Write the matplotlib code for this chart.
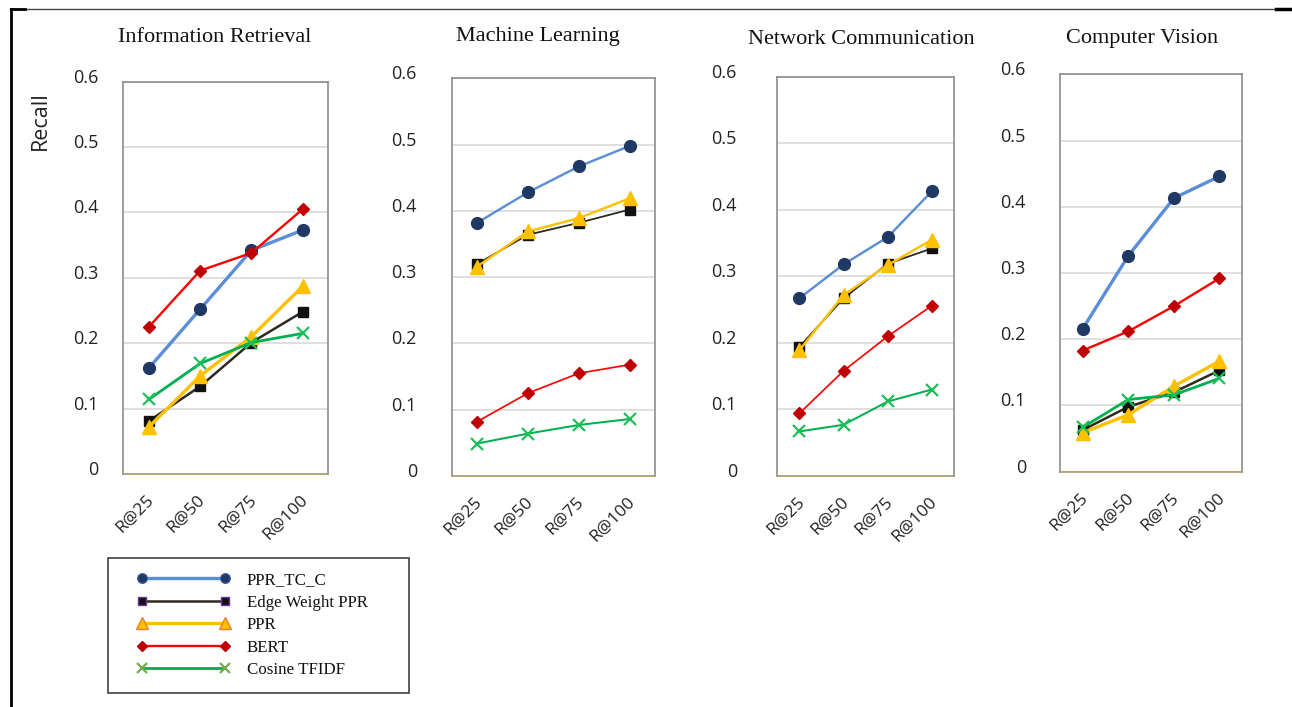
import matplotlib
matplotlib.use("Agg")
import matplotlib.pyplot as plt
import matplotlib.transforms as mtransforms
from matplotlib.lines import Line2D
from matplotlib.legend_handler import HandlerLine2D

# recall at each cutoff, one list per method and domain
cutoffs = ["R@25", "R@50", "R@75", "R@100"]
domains = ["Information Retrieval", "Machine Learning",
           "Network Communication", "Computer Vision"]
methods = ["PPR_TC_C", "Edge Weight PPR", "PPR", "BERT", "Cosine TFIDF"]

ppr_tc_c = [
    [0.162, 0.252, 0.342, 0.373],
    [0.382, 0.428, 0.467, 0.498],
    [0.267, 0.318, 0.359, 0.428],
    [0.216, 0.326, 0.413, 0.446],
]
edge_weight_ppr = [
    [0.081, 0.134, 0.201, 0.248],
    [0.320, 0.364, 0.382, 0.402],
    [0.194, 0.267, 0.319, 0.342],
    [0.063, 0.098, 0.120, 0.153],
]
ppr = [
    [0.072, 0.150, 0.210, 0.287],
    [0.316, 0.369, 0.389, 0.419],
    [0.189, 0.272, 0.317, 0.355],
    [0.059, 0.086, 0.129, 0.167],
]
bert = [
    [0.225, 0.311, 0.338, 0.405],
    [0.082, 0.125, 0.155, 0.168],
    [0.094, 0.158, 0.210, 0.256],
    [0.183, 0.212, 0.250, 0.292],
]
cosine_tfidf = [
    [0.114, 0.169, 0.201, 0.215],
    [0.049, 0.064, 0.077, 0.086],
    [0.067, 0.077, 0.112, 0.130],
    [0.067, 0.109, 0.116, 0.141],
]
series = [ppr_tc_c, edge_weight_ppr, ppr, bert, cosine_tfidf]

styles = [
    dict(color="#5b8ed8", lw=2.4, marker="o", ms=8.5, mfc="#1f3864", mec="#1f3864"),
    dict(color="#2e2a1f", lw=1.8, marker="s", ms=7, mfc="#111111", mec="#111111"),
    dict(color="#ffc000", lw=2.4, marker="^", ms=10, mfc="#ffc000", mec="#ffc000"),
    dict(color="#ff0000", lw=1.7, marker="D", ms=6.5, mfc="#c00000", mec="#c00000"),
    dict(color="#00b050", lw=2.0, marker="x", ms=9, mfc="#00b050", mec="#1dbf5a", mew=1.6),
]
legend_edges = ["#2f5597", "#7030a0", "#ed7d31", "#c00000", "#70ad47"]

# axes boxes in figure fraction, title centres, y tick label pads, line weight per panel
boxes = [
    [0.0954, 0.3296, 0.1587, 0.5549],
    [0.3496, 0.3267, 0.1574, 0.5625],
    [0.6016, 0.3267, 0.1368, 0.5648],
    [0.8204, 0.3328, 0.1411, 0.5621],
]
title_pos = [(215, 38), (538, 36), (861, 40), (1142, 38)]
ypads = [18, 25, 29, 24.5]
lw_scale = [1.0, 0.72, 0.72, 1.0]

W, H = 1292, 707
fig = plt.figure(figsize=(W / 100, H / 100), dpi=100)
fig.patch.set_facecolor("white")

serif = "Liberation Serif"
sans = "Open Sans"

for i, dom in enumerate(domains):
    ax = fig.add_axes(boxes[i])
    x = range(len(cutoffs))
    for s, st in zip(series, styles):
        ax.plot(x, s[i], zorder=3, **dict(st, lw=st["lw"] * lw_scale[i]))
    ax.set_xlim(-0.5, 3.5)
    ax.set_ylim(0, 0.6)
    ax.set_yticks([0, 0.1, 0.2, 0.3, 0.4, 0.5, 0.6])
    ax.set_yticklabels(["0", "0.1", "0.2", "0.3", "0.4", "0.5", "0.6"],
                       fontsize=13, family=sans, color="#222222")
    ax.set_xticks(list(x))
    ax.set_xticklabels(cutoffs, rotation=45, ha="right", rotation_mode="anchor",
                       fontsize=12.5, family=sans, color="#222222")
    ax.tick_params(axis="y", length=0, pad=ypads[i])
    ax.tick_params(axis="x", length=0, pad=13)
    ax.grid(axis="y", color="#d9d9d9", lw=1.2, zorder=0)
    ax.set_axisbelow(True)
    for side in ["top", "left", "right"]:
        ax.spines[side].set_color("#8c8c8c")
        ax.spines[side].set_linewidth(1.2)
    ax.spines["bottom"].set_color("#a89a6a")
    ax.spines["bottom"].set_linewidth(1.2)

    # tick labels sit a little above their gridlines
    shift = mtransforms.ScaledTranslation(0, 6 / 100, fig.dpi_scale_trans)
    for lab in ax.get_yticklabels():
        lab.set_transform(lab.get_transform() + shift)
    shift_x = mtransforms.ScaledTranslation(-3 / 100, 0, fig.dpi_scale_trans)
    for lab in ax.get_xticklabels():
        lab.set_transform(lab.get_transform() + shift_x)

    tx, ty = title_pos[i]
    fig.text(tx / W, 1 - ty / H, dom, ha="center", va="center",
             fontsize=16, family=serif, color="#111111")

fig.text(40 / W, 1 - 121 / H, "Recall", rotation=90, ha="center", va="center",
         fontsize=15.5, family=sans, color="#222222")

handles = [Line2D([0], [0], **dict(st, mec=ec, ms=st["ms"] * 0.8))
           for st, ec in zip(styles, legend_edges)]
leg = fig.legend(handles, methods, loc="upper left",
                 bbox_to_anchor=(108 / W, 14 / H, 301 / W, 135 / H), mode="expand",
                 handler_map={Line2D: HandlerLine2D(numpoints=2, xpad=0.84)},
                 handlelength=6.36, handletextpad=0.98, labelspacing=0.38,
                 borderpad=0.85, borderaxespad=0, fancybox=False,
                 prop=dict(family=serif, size=12.2))
leg.get_frame().set_edgecolor("#111111")
leg.get_frame().set_linewidth(1.2)
for t in leg.get_texts():
    t.set_color("#111111")

# page frame edges
fig.add_artist(Line2D([10 / W, 1], [1 - 9 / H, 1 - 9 / H], color="#444444", lw=1.0,
                      transform=fig.transFigure))
fig.add_artist(Line2D([11 / W, 11 / W], [0, 1 - 9 / H], color="#000000", lw=2.0,
                      transform=fig.transFigure))
fig.add_artist(Line2D([11 / W, 25 / W], [1 - 9 / H, 1 - 9 / H], color="#000000", lw=2.0,
                      transform=fig.transFigure))
fig.add_artist(Line2D([1276 / W, 1], [1 - 9 / H, 1 - 9 / H], color="#000000", lw=2.5,
                      transform=fig.transFigure))

fig.savefig("out.png", dpi=100)
